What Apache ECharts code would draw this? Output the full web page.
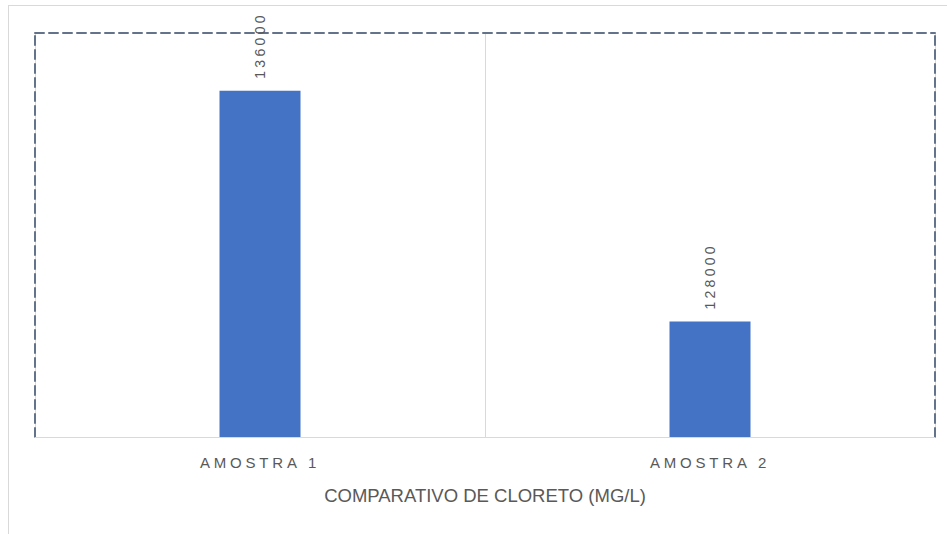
<!DOCTYPE html>
<html>
<head>
<meta charset="utf-8">
<script src="https://cdn.jsdelivr.net/npm/echarts@6/dist/echarts.min.js"></script>
<style>
  html, body { margin: 0; padding: 0; background: #fff; }
  #wrap { position: relative; width: 947px; height: 534px; overflow: hidden; }
  #frame { position: absolute; left: 8px; top: 5px; width: 950px; height: 540px;
           border-top: 1px solid #d9d9d9; border-left: 1px solid #d9d9d9; pointer-events: none; }
  #chart { position: absolute; left: 0; top: 0; width: 947px; height: 534px; }
</style>
</head>
<body>
<div id="wrap">
  <div id="chart"></div>
  <div id="frame"></div>
</div>
<script>
const categories = ['AMOSTRA 1', 'AMOSTRA 2'];
const values = [136000, 128000];
const axisTitle = 'COMPARATIVO DE CLORETO (MG/L)';
const yMin = 124000;
const yMax = 138000;

const dashStyle = { color: '#63738b', width: 2, type: [9, 5] };
const textColor = '#595959';
const font = 'Liberation Sans, Arial, sans-serif';

const chart = echarts.init(document.getElementById('chart'), null, { renderer: 'svg' });
chart.setOption({
  animation: false,
  backgroundColor: 'transparent',
  grid: { left: 35, right: 12, top: 33, bottom: 97 },
  xAxis: [
    {
      type: 'category', position: 'bottom', data: categories,
      axisLine: { show: true, lineStyle: { color: '#d9d9d9', width: 1 } },
      axisTick: { show: false },
      splitLine: { show: true, lineStyle: { color: '#d9d9d9', width: 1 } },
      axisLabel: { color: textColor, fontSize: 15, fontFamily: font, margin: 18 },
      name: axisTitle, nameLocation: 'middle', nameGap: 49,
      nameTextStyle: { color: textColor, fontSize: 18.5, fontFamily: font }
    },
    {
      type: 'category', position: 'top', data: categories,
      axisLine: { show: true, lineStyle: dashStyle },
      axisTick: { show: false }, axisLabel: { show: false }, splitLine: { show: false }
    }
  ],
  yAxis: [
    {
      type: 'value', position: 'left', min: yMin, max: yMax,
      axisLine: { show: true, lineStyle: dashStyle },
      axisTick: { show: false }, axisLabel: { show: false }, splitLine: { show: false }
    },
    {
      type: 'value', position: 'right', min: yMin, max: yMax,
      axisLine: { show: true, lineStyle: dashStyle },
      axisTick: { show: false }, axisLabel: { show: false }, splitLine: { show: false }
    }
  ],
  series: [{
    type: 'bar', data: values, barWidth: 81, xAxisIndex: 0, yAxisIndex: 0,
    itemStyle: { color: '#4472c4' },
    label: {
      show: true, position: 'top', rotate: 90, distance: 12,
      align: 'left', verticalAlign: 'middle',
      color: textColor, fontSize: 14, fontFamily: font
    }
  }]
});

// emulate the wide letter spacing of the original labels
function spaceText() {
  document.querySelectorAll('#chart text').forEach(t => {
    const s = t.textContent;
    if (categories.includes(s)) t.style.letterSpacing = '3.8px';
    else if (/^\d+$/.test(s)) t.style.letterSpacing = '3.3px';
  });
}
spaceText();
chart.on('finished', spaceText);
</script>
</body>
</html>
